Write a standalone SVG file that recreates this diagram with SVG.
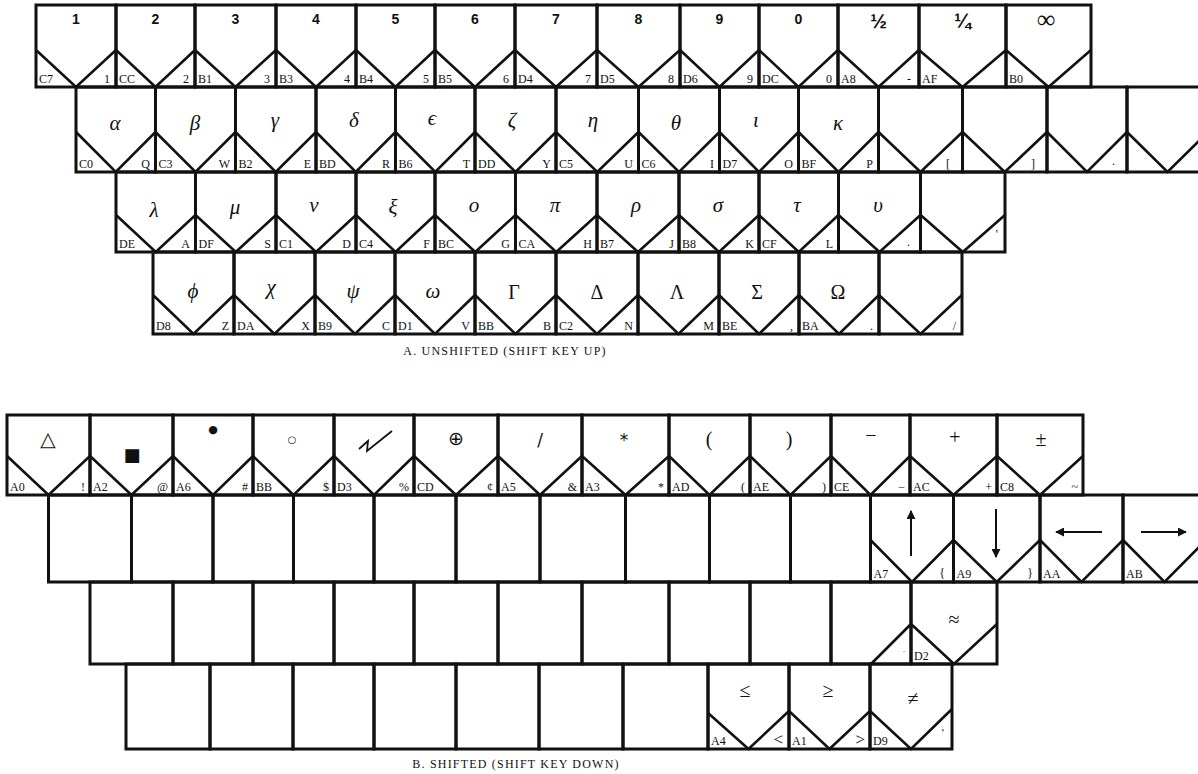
<svg xmlns="http://www.w3.org/2000/svg" width="1198" height="774" viewBox="0 0 1198 774">
<style>
.k{fill:none;stroke:#111;stroke-width:3}
.v{fill:none;stroke:#111;stroke-width:2.6}
.n{font:bold 14px "Liberation Sans",sans-serif;text-anchor:middle;fill:#111}
.g{font:italic 21px "Liberation Serif","DejaVu Serif",serif;text-anchor:middle;fill:#111}
.G{font:20px "Liberation Serif","DejaVu Serif",serif;text-anchor:middle;fill:#111}
.l{font:12px "Liberation Serif",serif;fill:#111}
.r{font:12px "Liberation Serif",serif;text-anchor:end;fill:#111}
.s{font:17px "DejaVu Sans",sans-serif;text-anchor:middle;fill:#111}
.c{font:12px "Liberation Serif",serif;text-anchor:middle;letter-spacing:1.2px;fill:#111}
.ar{stroke:#111;stroke-width:2;marker-end:url(#ah)}
</style>
<defs>
<marker id="ah" viewBox="0 0 10 10" refX="9" refY="5" markerWidth="4.5" markerHeight="4.5" orient="auto"><path d="M0 0L10 5L0 10Z" fill="#111"/></marker>
</defs>
<rect width="1198" height="774" fill="#fff"/>

<g id="partA">
<!-- Row A1 -->
<g id="a-1"><path class="k" d="M36 5H116V87H36Z"/><path class="v" d="M36 50L76 87L116 50"/><text class="n" x="76" y="24">1</text><text class="l" x="39" y="83">C7</text><text class="r" x="110" y="83">1</text></g>
<g id="a-2"><path class="k" d="M116 5H195V87H116Z"/><path class="v" d="M116 50L155.5 87L195 50"/><text class="n" x="155.5" y="24">2</text><text class="l" x="119" y="83">CC</text><text class="r" x="189" y="83">2</text></g>
<g id="a-3"><path class="k" d="M195 5H276V87H195Z"/><path class="v" d="M195 50L235.5 87L276 50"/><text class="n" x="235.5" y="24">3</text><text class="l" x="198" y="83">B1</text><text class="r" x="270" y="83">3</text></g>
<g id="a-4"><path class="k" d="M276 5H356V87H276Z"/><path class="v" d="M276 50L316 87L356 50"/><text class="n" x="316" y="24">4</text><text class="l" x="279" y="83">B3</text><text class="r" x="350" y="83">4</text></g>
<g id="a-5"><path class="k" d="M356 5H435V87H356Z"/><path class="v" d="M356 50L395.5 87L435 50"/><text class="n" x="395.5" y="24">5</text><text class="l" x="359" y="83">B4</text><text class="r" x="429" y="83">5</text></g>
<g id="a-6"><path class="k" d="M435 5H515V87H435Z"/><path class="v" d="M435 50L475 87L515 50"/><text class="n" x="475" y="24">6</text><text class="l" x="438" y="83">B5</text><text class="r" x="509" y="83">6</text></g>
<g id="a-7"><path class="k" d="M515 5H597V87H515Z"/><path class="v" d="M515 50L556 87L597 50"/><text class="n" x="556" y="24">7</text><text class="l" x="518" y="83">D4</text><text class="r" x="591" y="83">7</text></g>
<g id="a-8"><path class="k" d="M597 5H680V87H597Z"/><path class="v" d="M597 50L638.5 87L680 50"/><text class="n" x="638.5" y="24">8</text><text class="l" x="600" y="83">D5</text><text class="r" x="674" y="83">8</text></g>
<g id="a-9"><path class="k" d="M680 5H759V87H680Z"/><path class="v" d="M680 50L719.5 87L759 50"/><text class="n" x="719.5" y="24">9</text><text class="l" x="683" y="83">D6</text><text class="r" x="753" y="83">9</text></g>
<g id="a-0"><path class="k" d="M759 5H838V87H759Z"/><path class="v" d="M759 50L798.5 87L838 50"/><text class="n" x="798.5" y="24">0</text><text class="l" x="762" y="83">DC</text><text class="r" x="832" y="83">0</text></g>
<g id="a-half"><path class="k" d="M838 5H919V87H838Z"/><path class="v" d="M838 50L878.5 87L919 50"/><text class="n" x="878.5" y="28" style="font-size:20px">½</text><text class="l" x="841" y="83">A8</text><text class="r" x="911" y="83">-</text></g>
<g id="a-quarter"><path class="k" d="M919 5H1006V87H919Z"/><path class="v" d="M919 50L962.5 87L1006 50"/><text class="n" x="962.5" y="28" style="font-size:20px">¼</text><text class="l" x="922" y="83">AF</text></g>
<g id="a-inf"><path class="k" d="M1006 5H1091V87H1006Z"/><path class="v" d="M1006 50L1048.5 87L1091 50"/><text class="G" x="1046" y="28" style="font-size:26px">∞</text><text class="l" x="1009" y="83">B0</text></g>

<!-- Row A2 -->
<g id="a-alpha"><path class="k" d="M76 87H155.5V172H76Z"/><path class="v" d="M76 132L115.75 172L155.5 132"/><text class="g" x="115" y="130">α</text><text class="l" x="79" y="168">C0</text><text class="r" x="150" y="168">Q</text></g>
<g id="a-beta"><path class="k" d="M155.5 87H235.5V172H155.5Z"/><path class="v" d="M155.5 132L195.5 172L235.5 132"/><text class="g" x="195" y="130">β</text><text class="l" x="158.5" y="168">C3</text><text class="r" x="230" y="168">W</text></g>
<g id="a-gamma"><path class="k" d="M235.5 87H316V172H235.5Z"/><path class="v" d="M235.5 132L275.75 172L316 132"/><text class="g" x="275" y="127">γ</text><text class="l" x="238.5" y="168">B2</text><text class="r" x="311" y="168">E</text></g>
<g id="a-delta"><path class="k" d="M316 87H395.5V172H316Z"/><path class="v" d="M316 132L355.75 172L395.5 132"/><text class="g" x="354" y="127">δ</text><text class="l" x="319" y="168">BD</text><text class="r" x="390" y="168">R</text></g>
<g id="a-epsilon"><path class="k" d="M395.5 87H475V172H395.5Z"/><path class="v" d="M395.5 132L435.25 172L475 132"/><text class="g" x="432" y="125">ϵ</text><text class="l" x="398.5" y="168">B6</text><text class="r" x="470" y="168">T</text></g>
<g id="a-zeta"><path class="k" d="M475 87H556V172H475Z"/><path class="v" d="M475 132L515.5 172L556 132"/><text class="g" x="512" y="127">ζ</text><text class="l" x="478" y="168">DD</text><text class="r" x="551" y="168">Y</text></g>
<g id="a-eta"><path class="k" d="M556 87H638.5V172H556Z"/><path class="v" d="M556 132L597.25 172L638.5 132"/><text class="g" x="593" y="127">η</text><text class="l" x="559" y="168">C5</text><text class="r" x="633" y="168">U</text></g>
<g id="a-theta"><path class="k" d="M638.5 87H719.5V172H638.5Z"/><path class="v" d="M638.5 132L679 172L719.5 132"/><text class="g" x="676" y="130">θ</text><text class="l" x="641.5" y="168">C6</text><text class="r" x="714" y="168">I</text></g>
<g id="a-iota"><path class="k" d="M719.5 87H798.5V172H719.5Z"/><path class="v" d="M719.5 132L759 172L798.5 132"/><text class="g" x="756" y="127">ι</text><text class="l" x="722.5" y="168">D7</text><text class="r" x="793" y="168">O</text></g>
<g id="a-kappa"><path class="k" d="M798.5 87H878.5V172H798.5Z"/><path class="v" d="M798.5 132L838.5 172L878.5 132"/><text class="g" x="838" y="130">κ</text><text class="l" x="801.5" y="168">BF</text><text class="r" x="873" y="168">P</text></g>
<g id="a-lbr"><path class="k" d="M878.5 87H962.5V172H878.5Z"/><path class="v" d="M878.5 132L920.5 172L962.5 132"/><text class="r" x="950" y="168">[</text></g>
<g id="a-rbr"><path class="k" d="M962.5 87H1047V172H962.5Z"/><path class="v" d="M962.5 132L1004.75 172L1047 132"/><text class="r" x="1035" y="168">]</text></g>
<g id="a-k13"><path class="k" d="M1047 87H1127V172H1047Z"/><path class="v" d="M1047 132L1087 172L1127 132"/><text class="r" x="1115" y="165">.</text></g>
<g id="a-k14"><path class="k" d="M1127 87H1208V172H1127Z"/><path class="v" d="M1127 132L1167.5 172L1208 132"/></g>

<!-- Row A3 -->
<g id="a-lambda"><path class="k" d="M116 172H195.5V252H116Z"/><path class="v" d="M116 215L155.75 252L195.5 215"/><text class="g" x="154" y="217">λ</text><text class="l" x="119" y="248">DE</text><text class="r" x="190" y="248">A</text></g>
<g id="a-mu"><path class="k" d="M195.5 172H276V252H195.5Z"/><path class="v" d="M195.5 215L235.75 252L276 215"/><text class="g" x="235" y="214">μ</text><text class="l" x="198.5" y="248">DF</text><text class="r" x="271" y="248">S</text></g>
<g id="a-nu"><path class="k" d="M276 172H356V252H276Z"/><path class="v" d="M276 215L316 252L356 215"/><text class="g" x="314" y="212">ν</text><text class="l" x="279" y="248">C1</text><text class="r" x="351" y="248">D</text></g>
<g id="a-xi"><path class="k" d="M356 172H435V252H356Z"/><path class="v" d="M356 215L395.5 252L435 215"/><text class="g" x="393" y="214">ξ</text><text class="l" x="359" y="248">C4</text><text class="r" x="430" y="248">F</text></g>
<g id="a-omicron"><path class="k" d="M435 172H515.5V252H435Z"/><path class="v" d="M435 215L475.25 252L515.5 215"/><text class="g" x="474" y="212">ο</text><text class="l" x="438" y="248">BC</text><text class="r" x="510" y="248">G</text></g>
<g id="a-pi"><path class="k" d="M515.5 172H597V252H515.5Z"/><path class="v" d="M515.5 215L556.25 252L597 215"/><text class="g" x="555" y="212">π</text><text class="l" x="518.5" y="248">CA</text><text class="r" x="592" y="248">H</text></g>
<g id="a-rho"><path class="k" d="M597 172H679V252H597Z"/><path class="v" d="M597 215L638 252L679 215"/><text class="g" x="636" y="212">ρ</text><text class="l" x="600" y="248">B7</text><text class="r" x="674" y="248">J</text></g>
<g id="a-sigma"><path class="k" d="M679 172H759V252H679Z"/><path class="v" d="M679 215L719 252L759 215"/><text class="g" x="718" y="212">σ</text><text class="l" x="682" y="248">B8</text><text class="r" x="754" y="248">K</text></g>
<g id="a-tau"><path class="k" d="M759 172H838.5V252H759Z"/><path class="v" d="M759 215L798.75 252L838.5 215"/><text class="g" x="797" y="212">τ</text><text class="l" x="762" y="248">CF</text><text class="r" x="833" y="248">L</text></g>
<g id="a-upsilon"><path class="k" d="M838.5 172H920.5V252H838.5Z"/><path class="v" d="M838.5 215L879.5 252L920.5 215"/><text class="g" x="878" y="212">υ</text><text class="r" x="910" y="246">.</text></g>
<g id="a-k3-11"><path class="k" d="M920.5 172H1005V252H920.5Z"/><path class="v" d="M920.5 215L962.75 252L1005 215"/><text class="r" x="998" y="238">'</text></g>

<!-- Row A4 -->
<g id="a-phi"><path class="k" d="M153 252H234V334H153Z"/><path class="v" d="M153 295L193.5 334L234 295"/><text class="g" x="193" y="298">ϕ</text><text class="l" x="156" y="330">D8</text><text class="r" x="229" y="330">Z</text></g>
<g id="a-chi"><path class="k" d="M234 252H315V334H234Z"/><path class="v" d="M234 295L274.5 334L315 295"/><text class="g" x="271" y="294">χ</text><text class="l" x="237" y="330">DA</text><text class="r" x="310" y="330">X</text></g>
<g id="a-psi"><path class="k" d="M315 252H395V334H315Z"/><path class="v" d="M315 295L355 334L395 295"/><text class="g" x="353" y="298">ψ</text><text class="l" x="318" y="330">B9</text><text class="r" x="390" y="330">C</text></g>
<g id="a-omega"><path class="k" d="M395 252H475V334H395Z"/><path class="v" d="M395 295L435 334L475 295"/><text class="g" x="433" y="298">ω</text><text class="l" x="398" y="330">D1</text><text class="r" x="470" y="330">V</text></g>
<g id="a-Gamma"><path class="k" d="M475 252H556V334H475Z"/><path class="v" d="M475 295L515.5 334L556 295"/><text class="G" x="514" y="299">Γ</text><text class="l" x="478" y="330">BB</text><text class="r" x="551" y="330">B</text></g>
<g id="a-Delta"><path class="k" d="M556 252H638V334H556Z"/><path class="v" d="M556 295L597 334L638 295"/><text class="G" x="597" y="299">Δ</text><text class="l" x="559" y="330">C2</text><text class="r" x="633" y="330">N</text></g>
<g id="a-Lambda"><path class="k" d="M638 252H719V334H638Z"/><path class="v" d="M638 295L678.5 334L719 295"/><text class="G" x="677" y="299">Λ</text><text class="r" x="714" y="330">M</text></g>
<g id="a-Sigma"><path class="k" d="M719 252H799V334H719Z"/><path class="v" d="M719 295L759 334L799 295"/><text class="G" x="757" y="299">Σ</text><text class="l" x="722" y="330">BE</text><text class="r" x="793" y="330">,</text></g>
<g id="a-Omega"><path class="k" d="M799 252H879V334H799Z"/><path class="v" d="M799 295L839 334L879 295"/><text class="G" x="838" y="299">Ω</text><text class="l" x="802" y="330">BA</text><text class="r" x="873" y="330">.</text></g>
<g id="a-slash"><path class="k" d="M879 252H962V334H879Z"/><path class="v" d="M879 295L920.5 334L962 295"/><text class="r" x="956" y="330">/</text></g>

<text id="captionA" class="c" x="505" y="355">A. UNSHIFTED (SHIFT KEY UP)</text>
</g>

<g id="partB">
<!-- Row B1 -->
<g id="b-tri"><path class="k" d="M7 415H90V495H7Z"/><path class="v" d="M7 456L48.5 495L90 456"/><text class="s" x="48" y="446" style="font-size:20px">△</text><text class="l" x="10" y="491">A0</text><text class="r" x="85" y="491">!</text></g>
<g id="b-sq"><path class="k" d="M90 415H173V495H90Z"/><path class="v" d="M90 456L131.5 495L173 456"/><text class="s" x="132" y="461" style="font-size:18px">■</text><text class="l" x="93" y="491">A2</text><text class="r" x="168" y="491">@</text></g>
<g id="b-dot"><path class="k" d="M173 415H253V495H173Z"/><path class="v" d="M173 456L213 495L253 456"/><text class="s" x="213" y="433" style="font-size:11px">●</text><text class="l" x="176" y="491">A6</text><text class="r" x="248" y="491">#</text></g>
<g id="b-circ"><path class="k" d="M253 415H334V495H253Z"/><path class="v" d="M253 456L293.5 495L334 456"/><text class="s" x="292" y="443" style="font-size:10px">○</text><text class="l" x="256" y="491">BB</text><text class="r" x="329" y="491">$</text></g>
<g id="b-zig"><path class="k" d="M334 415H414V495H334Z"/><path class="v" d="M334 456L374 495L414 456"/><path d="M359 449L368 441L367 451L392 431" fill="none" stroke="#111" stroke-width="1.8"/><text class="l" x="337" y="491">D3</text><text class="r" x="409" y="491">%</text></g>
<g id="b-oplus"><path class="k" d="M414 415H498V495H414Z"/><path class="v" d="M414 456L456 495L498 456"/><text class="s" x="456" y="445" style="font-size:19px">⊕</text><text class="l" x="417" y="491">CD</text><text class="r" x="493" y="491">¢</text></g>
<g id="b-sl"><path class="k" d="M498 415H582V495H498Z"/><path class="v" d="M498 456L540 495L582 456"/><text class="s" x="540" y="446">/</text><text class="l" x="501" y="491">A5</text><text class="r" x="577" y="491">&amp;</text></g>
<g id="b-ast"><path class="k" d="M582 415H669V495H582Z"/><path class="v" d="M582 456L625.5 495L669 456"/><text class="s" x="624" y="446">*</text><text class="l" x="585" y="491">A3</text><text class="r" x="664" y="491">*</text></g>
<g id="b-lp"><path class="k" d="M669 415H750V495H669Z"/><path class="v" d="M669 456L709.5 495L750 456"/><text class="G" x="709" y="446">(</text><text class="l" x="672" y="491">AD</text><text class="r" x="745" y="491">(</text></g>
<g id="b-rp"><path class="k" d="M750 415H831V495H750Z"/><path class="v" d="M750 456L790.5 495L831 456"/><text class="G" x="789" y="446">)</text><text class="l" x="753" y="491">AE</text><text class="r" x="826" y="491">)</text></g>
<g id="b-minus"><path class="k" d="M831 415H910V495H831Z"/><path class="v" d="M831 456L870.5 495L910 456"/><text class="G" x="871" y="442">−</text><text class="l" x="834" y="491">CE</text><text class="r" x="905" y="491">−</text></g>
<g id="b-plus"><path class="k" d="M910 415H997V495H910Z"/><path class="v" d="M910 456L953.5 495L997 456"/><text class="G" x="955" y="444">+</text><text class="l" x="913" y="491">AC</text><text class="r" x="992" y="491">+</text></g>
<g id="b-pm"><path class="k" d="M997 415H1083V495H997Z"/><path class="v" d="M997 456L1040 495L1083 456"/><text class="G" x="1041" y="446">±</text><text class="l" x="1000" y="491">C8</text><text class="r" x="1078" y="491">~</text></g>

<!-- Row B2 -->
<g id="b2-1"><path class="k" d="M48.5 495H131.5V582H48.5Z"/></g>
<g id="b2-2"><path class="k" d="M131.5 495H213V582H131.5Z"/></g>
<g id="b2-3"><path class="k" d="M213 495H293.5V582H213Z"/></g>
<g id="b2-4"><path class="k" d="M293.5 495H374V582H293.5Z"/></g>
<g id="b2-5"><path class="k" d="M374 495H456V582H374Z"/></g>
<g id="b2-6"><path class="k" d="M456 495H540V582H456Z"/></g>
<g id="b2-7"><path class="k" d="M540 495H625.5V582H540Z"/></g>
<g id="b2-8"><path class="k" d="M625.5 495H709.5V582H625.5Z"/></g>
<g id="b2-9"><path class="k" d="M709.5 495H790.5V582H709.5Z"/></g>
<g id="b2-10"><path class="k" d="M790.5 495H870.5V582H790.5Z"/></g>
<g id="b-up"><path class="k" d="M870.5 495H953.5V582H870.5Z"/><path class="v" d="M870.5 540L912 582L953.5 540"/><line class="ar" x1="911" y1="556" x2="911" y2="511"/><text class="l" x="873.5" y="578">A7</text><text class="r" x="945" y="577">{</text></g>
<g id="b-down"><path class="k" d="M953.5 495H1040V582H953.5Z"/><path class="v" d="M953.5 540L996.75 582L1040 540"/><line class="ar" x1="996" y1="509" x2="996" y2="557"/><text class="l" x="956.5" y="578">A9</text><text class="r" x="1033" y="577">}</text></g>
<g id="b-left"><path class="k" d="M1040 495H1123V582H1040Z"/><path class="v" d="M1040 540L1081.5 582L1123 540"/><line class="ar" x1="1102" y1="532" x2="1056" y2="532"/><text class="l" x="1043" y="578">AA</text></g>
<g id="b-right"><path class="k" d="M1123 495H1206V582H1123Z"/><path class="v" d="M1123 540L1164.5 582L1206 540"/><line class="ar" x1="1141" y1="532" x2="1186" y2="532"/><text class="l" x="1126" y="578">AB</text></g>

<!-- Row B3 -->
<g id="b3-1"><path class="k" d="M90 582H173V664H90Z"/></g>
<g id="b3-2"><path class="k" d="M173 582H253V664H173Z"/></g>
<g id="b3-3"><path class="k" d="M253 582H334V664H253Z"/></g>
<g id="b3-4"><path class="k" d="M334 582H414V664H334Z"/></g>
<g id="b3-5"><path class="k" d="M414 582H498V664H414Z"/></g>
<g id="b3-6"><path class="k" d="M498 582H582V664H498Z"/></g>
<g id="b3-7"><path class="k" d="M582 582H669V664H582Z"/></g>
<g id="b3-8"><path class="k" d="M669 582H750V664H669Z"/></g>
<g id="b3-9"><path class="k" d="M750 582H831V664H750Z"/></g>
<g id="b3-10"><path class="k" d="M831 582H911V664H831Z"/><path class="v" d="M871 664L911 624"/><text class="r" x="905" y="652" style="font-size:8px">.</text></g>
<g id="b-approx"><path class="k" d="M911 582H997V664H911Z"/><path class="v" d="M911 624L954 664L997 624"/><text class="G" x="954" y="626">≈</text><text class="l" x="914" y="660">D2</text></g>

<!-- Row B4 -->
<g id="b4-1"><path class="k" d="M126 664H210V749H126Z"/></g>
<g id="b4-2"><path class="k" d="M210 664H293V749H210Z"/></g>
<g id="b4-3"><path class="k" d="M293 664H374V749H293Z"/></g>
<g id="b4-4"><path class="k" d="M374 664H456V749H374Z"/></g>
<g id="b4-5"><path class="k" d="M456 664H539V749H456Z"/></g>
<g id="b4-6"><path class="k" d="M539 664H623V749H539Z"/></g>
<g id="b4-7"><path class="k" d="M623 664H708V749H623Z"/></g>
<g id="b-le"><path class="k" d="M708 664H789V749H708Z"/><path class="v" d="M708 713L748.5 749L789 711"/><text class="G" x="745" y="697">≤</text><text class="l" x="711" y="745">A4</text><text class="r" x="783" y="745" style="font-size:17px">&lt;</text></g>
<g id="b-ge"><path class="k" d="M789 664H870V749H789Z"/><path class="v" d="M789 711L829.5 749L870 711"/><text class="G" x="828" y="697">≥</text><text class="l" x="792" y="745">A1</text><text class="r" x="865" y="745" style="font-size:17px">&gt;</text></g>
<g id="b-ne"><path class="k" d="M870 664H952V749H870Z"/><path class="v" d="M870 711L911 749L952 709"/><text class="G" x="913" y="705">≠</text><text class="l" x="873" y="745">D9</text><text class="r" x="944" y="737">'</text></g>

<text id="captionB" class="c" x="516" y="768">B. SHIFTED (SHIFT KEY DOWN)</text>
</g>

<g id="connectors"/>
</svg>
